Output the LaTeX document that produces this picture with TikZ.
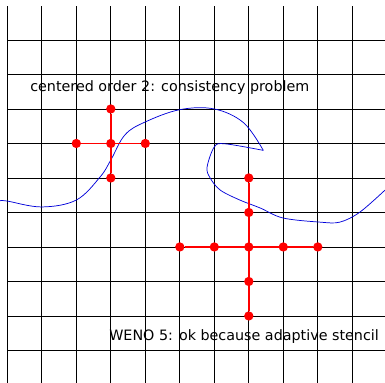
\documentclass[tikz,border=0pt]{standalone}
\usepackage{fontspec}
\setmainfont{DejaVu Sans}
\usepackage{tikz}
\usetikzlibrary{positioning}

\begin{document}
\begin{tikzpicture}[
    node distance=1cm, on grid,
    gridline/.style={black, line width=0.6pt},
    pt/.style={circle, fill=red, inner sep=0pt, minimum size=0.27cm},
    stencil/.style={red, line width=1.5pt},
    wave/.style={blue!85!black, line width=0.6pt},
    note/.style={anchor=west, inner sep=0pt, font=\fontsize{11.8}{14}\selectfont}
]
    \useasboundingbox (-0.212,-0.942) rectangle (10.948,10.159);

    % Mesh
    \foreach \i in {0,...,10}
        \draw[gridline] (\i,-0.942) -- (\i,9.985);
    \foreach \j in {0,...,9}
        \draw[gridline] (0,\j) -- (10.948,\j);

    % Overturning wave
    \draw[wave] plot[smooth, tension=0.6] coordinates {(-0.212,4.34) (0,4.33) (1.0,4.16) (2.0,4.36) (2.69,5.03) (3.0,5.52) (3.41,6.25) (3.99,6.62) (5.0,6.98) (6.0,7.0) (6.85,6.6) (7.42,5.80)};
    \draw[wave] plot[smooth, tension=0.55] coordinates {(7.42,5.80) (6.31,5.99) (6.0,5.90) (5.79,5.31) (5.88,5.0) (6.17,4.65) (6.74,4.36) (7.33,4.13) (7.99,3.84) (9.06,3.72) (9.64,3.72) (10.22,4.01) (10.95,4.65)};

    % Centered stencil
    \node[note] (ctext) at (0.66,7.61) {centered order 2: consistency problem};
    \node[pt] (c0) at (3,6) {};
    \node[pt, left=of c0] (cw) {};
    \node[pt, right=of c0] (ce) {};
    \node[pt, above=of c0] (cn) {};
    \node[pt, below=of c0] (cs) {};
    \draw[stencil] (cw) -- (ce);
    \draw[stencil] (cn) -- (cs);

    % WENO 5 stencil
    \node[note] (wtext) at (2.95,0.39) {WENO 5: ok because adaptive stencil};
    \node[pt] (w0) at (7,3) {};
    \node[pt, left=of w0] (ww1) {};
    \node[pt, left=of ww1] (ww2) {};
    \node[pt, right=of w0] (we1) {};
    \node[pt, right=of we1] (we2) {};
    \node[pt, above=of w0] (wn1) {};
    \node[pt, above=of wn1] (wn2) {};
    \node[pt, below=of w0] (ws1) {};
    \node[pt, below=of ws1] (ws2) {};
    \draw[stencil] (ww2) -- (we2);
    \draw[stencil] (wn2) -- (ws2);
\end{tikzpicture}
\end{document}
